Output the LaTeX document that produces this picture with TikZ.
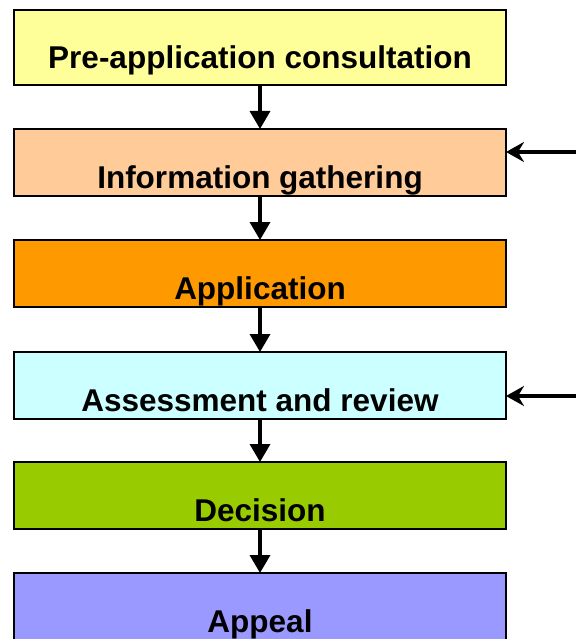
\documentclass[tikz,border=0pt]{standalone}
\usepackage{fontspec}
\setmainfont{Liberation Sans}
\usetikzlibrary{positioning,arrows.meta}

\definecolor{preyellow}{HTML}{FFFF99}
\definecolor{infopeach}{HTML}{FFCC99}
\definecolor{apporange}{HTML}{FF9900}
\definecolor{reviewcyan}{HTML}{CCFFFF}
\definecolor{decgreen}{HTML}{99CC00}
\definecolor{appealblue}{HTML}{9999FF}

\begin{document}
\begin{tikzpicture}[x=1pt, y=-1pt,
  stage/.style={draw=black, line width=1.8pt, inner sep=0pt, outer sep=0pt,
    minimum width=492pt, text height=59pt, text depth=8pt,
    font=\fontsize{31.5}{36}\selectfont\bfseries},
  flow/.style={line width=3.5pt, -{Triangle[length=18pt,width=20pt]}},
  feed/.style={line width=3.5pt, -{Stealth[length=18pt,width=20pt,inset=6pt]}}]

  \newcommand\PicW{576};
  \newcommand\PicH{639};

  \useasboundingbox (0,0) rectangle (\PicW,\PicH);

  \node[stage, fill=preyellow, text depth=16pt] (pre) at (260,47.5) {Pre-application consultation};
  \node[stage, fill=infopeach, below=44pt of pre] (info) {Information gathering};
  \node[stage, fill=apporange, below=44pt of info] (app) {Application};
  \node[stage, fill=reviewcyan, below=45pt of app] (review) {Assessment and review};
  \node[stage, fill=decgreen, below=43pt of review] (dec) {Decision};
  \node[stage, fill=appealblue, below=44pt of dec] (appeal) {Appeal};

  \draw[flow] (pre) -- (info);
  \draw[flow] (info) -- (app);
  \draw[flow] (app) -- (review);
  \draw[flow] (review) -- (dec);
  \draw[flow] (dec) -- (appeal);

  \coordinate (infoin) at (\PicW,152); %% from the right edge
  \coordinate (reviewin) at (\PicW,396);
  \draw[feed] (infoin) -- (infoin -| info.east);
  \draw[feed] (reviewin) -- (reviewin -| review.east);
\end{tikzpicture}
\end{document}
